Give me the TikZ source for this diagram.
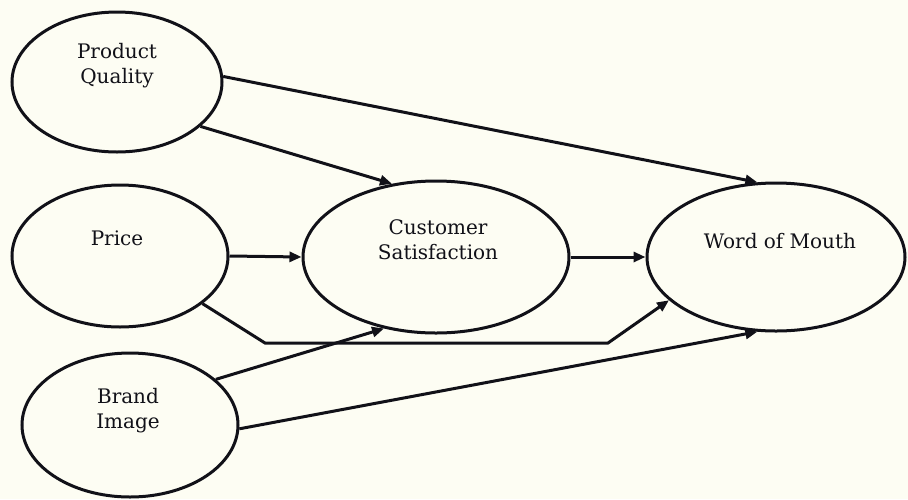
\documentclass[tikz,border=0pt]{standalone}
\usepackage{fontspec}
\setmainfont{DejaVu Serif}
\usetikzlibrary{shapes.geometric,arrows.meta}
\definecolor{bgcream}{HTML}{FDFDF3}
\definecolor{inkc}{HTML}{111118}
\tikzset{
  latent/.style={ellipse, draw=inkc, line width=3pt, inner sep=0pt},
  lbl/.style={text=inkc, align=center, inner sep=0pt, font=\fontsize{20}{25}\selectfont},
  conn/.style={draw=inkc, line width=3pt, -{Triangle[length=12pt,width=10pt]}}
}
\begin{document}
\begin{tikzpicture}[x=1pt,y=-1pt]
  \fill[bgcream] (0,0) rectangle (908,499);
  \useasboundingbox (0,0) rectangle (908,499);
  % ellipses
  \node[latent, minimum width=210pt, minimum height=140pt] (pq) at (117,82) {};
  \node[latent, minimum width=216pt, minimum height=142pt] (pr) at (120,256) {};
  \node[latent, minimum width=216pt, minimum height=144pt] (bi) at (130,425) {};
  \node[latent, minimum width=266pt, minimum height=152pt] (cs) at (436,257) {};
  \node[latent, minimum width=258pt, minimum height=148pt] (wom) at (776,257) {};
  % labels
  \node[lbl] (pqt) at (117,66) {Product\\Quality};
  \node[lbl] (prt) at (117,238) {Price};
  \node[lbl] (bit) at (128,410.5) {Brand\\Image};
  \node[lbl] (cst) at (438,239.5) {Customer\\Satisfaction};
  \node[lbl] (womt) at (780,241) {Word of Mouth};
  % bend points
  \coordinate (b1) at (265,343);
  \coordinate (b2) at (608,343);
  % connectors
  \draw[conn] (pq.3.8) -- (wom.104.4);
  \draw[conn] (pq.-28.5) -- (cs.121.5);
  \draw[conn] (pr.0) -- (cs.180);
  \draw[conn] (cs.0) -- (wom.180);
  \draw[conn] (pr.-30.4) -- (b1) -- (b2) -- (wom.-158.5);
  \draw[conn] (bi.28.4) -- (cs.-126.1);
  \draw[conn] (bi.-2.6) -- (wom.-104);
\end{tikzpicture}
\end{document}
